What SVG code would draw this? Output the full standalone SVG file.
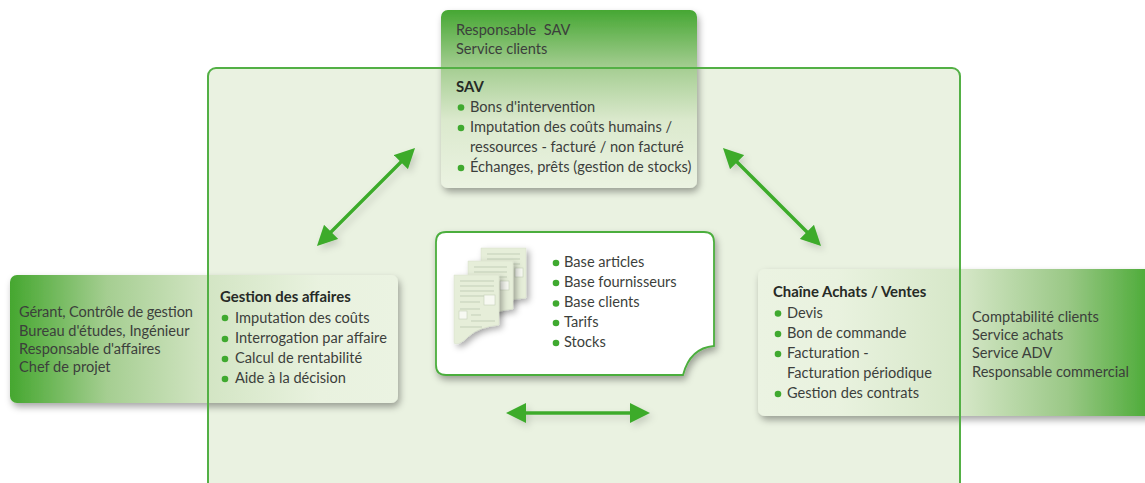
<svg xmlns="http://www.w3.org/2000/svg" width="1145" height="483" viewBox="0 0 1145 483">
<style>
text{font-family:"Lato","Open Sans","Liberation Sans",sans-serif;font-size:14.6px;fill:#3c3f3c;white-space:pre}
.b{font-weight:700;font-size:14.9px;fill:#262a26}
.dot{fill:#3fa92f}
.arrow{stroke:#3cab2c;stroke-width:3.4;fill:none;marker-start:url(#head);marker-end:url(#head)}
.line{stroke:#c3cfb8;stroke-width:1;fill:none}
.sheet{fill:#e6eed9;stroke:#d5dec8;stroke-width:.5;filter:url(#ss)}
.win{fill:#f7f9f2;stroke:#c6d0ba;stroke-width:.6}
</style>
<defs>
<linearGradient id="gt" x1="0" y1="0" x2="0" y2="1"><stop offset="0" stop-color="#46a733"/><stop offset=".33" stop-color="#a6ce93"/><stop offset=".62" stop-color="#dbe9cd"/><stop offset="1" stop-color="#ebf3e2"/></linearGradient>
<linearGradient id="gl" x1="0" y1="0" x2="1" y2="0"><stop offset="0" stop-color="#45a72f"/><stop offset=".25" stop-color="#a5ce91"/><stop offset=".51" stop-color="#d3e5c4"/><stop offset=".8" stop-color="#e9f2df"/><stop offset="1" stop-color="#ebf3e2"/></linearGradient>
<linearGradient id="gr" x1="1" y1="0" x2="0" y2="0"><stop offset="0" stop-color="#47a932"/><stop offset=".22" stop-color="#9ac886"/><stop offset=".49" stop-color="#d6e7c8"/><stop offset=".8" stop-color="#e9f2df"/><stop offset="1" stop-color="#ebf3e2"/></linearGradient>
<filter id="sh" x="-10%" y="-10%" width="120%" height="125%"><feDropShadow dx="2" dy="4" stdDeviation="3.500" flood-color="#000" flood-opacity=".34"/></filter>
<filter id="ss" x="-30%" y="-30%" width="170%" height="170%"><feDropShadow dx="3" dy="3" stdDeviation="3" flood-color="#000" flood-opacity=".32"/></filter>
<filter id="as" filterUnits="userSpaceOnUse" x="280" y="120" width="580" height="320"><feDropShadow dx="3" dy="4" stdDeviation="3.500" flood-color="#000" flood-opacity=".15"/></filter>
<marker id="head" viewBox="0 0 20 20" refX="3" refY="10" markerWidth="20" markerHeight="20" markerUnits="userSpaceOnUse" orient="auto-start-reverse"><path d="M0 0L20 10L0 20Z" fill="#3cab2c"/></marker>
</defs>

<rect id="frame-fill" x="208" y="68" width="752" height="430" rx="8" fill="#eaf2e1"/>

<g id="node-sav">
<rect x="441" y="10" width="256" height="178" rx="7" fill="url(#gt)" filter="url(#sh)"/>
<text x="456" y="35">Responsable  SAV</text>
<text x="456" y="54">Service clients</text>
<text class="b" x="456" y="92">SAV</text>
<circle class="dot" cx="461" cy="107.500" r="3.300"/><text x="470" y="112">Bons d'intervention</text>
<circle class="dot" cx="461" cy="128" r="3.300"/><text x="470" y="132">Imputation des coûts humains /</text>
<text x="470" y="152">ressources - facturé / non facturé</text>
<circle class="dot" cx="461" cy="168" r="3.300"/><text x="470" y="172">Échanges, prêts (gestion de stocks)</text>
</g>

<g id="node-affaires">
<rect x="10" y="275" width="388" height="128" rx="7" fill="url(#gl)" filter="url(#sh)"/>
<text x="19" y="317" textLength="174">Gérant, Contrôle de gestion</text>
<text x="19" y="336">Bureau d'études, Ingénieur</text>
<text x="19" y="354">Responsable d'affaires</text>
<text x="19" y="372">Chef de projet</text>
<text class="b" x="220" y="302">Gestion des affaires</text>
<circle class="dot" cx="225" cy="318" r="3.300"/><text x="235" y="323">Imputation des coûts</text>
<circle class="dot" cx="225" cy="339" r="3.300"/><text x="235" y="343">Interrogation par affaire</text>
<circle class="dot" cx="225" cy="359" r="3.300"/><text x="235" y="363">Calcul de rentabilité</text>
<circle class="dot" cx="225" cy="379" r="3.300"/><text x="235" y="383">Aide à la décision</text>
</g>

<g id="node-achats">
<rect x="758" y="269" width="397" height="147" rx="7" fill="url(#gr)" filter="url(#sh)"/>
<text class="b" x="773" y="297">Chaîne Achats / Ventes</text>
<circle class="dot" cx="778" cy="313.500" r="3.300"/><text x="787" y="318">Devis</text>
<circle class="dot" cx="778" cy="334" r="3.300"/><text x="787" y="338">Bon de commande</text>
<circle class="dot" cx="778" cy="354" r="3.300"/><text x="787" y="358">Facturation -</text>
<text x="787" y="378">Facturation périodique</text>
<circle class="dot" cx="778" cy="394" r="3.300"/><text x="787" y="398">Gestion des contrats</text>
<text x="972" y="322">Comptabilité clients</text>
<text x="972" y="340">Service achats</text>
<text x="972" y="358">Service ADV</text>
<text x="972" y="377">Responsable commercial</text>
</g>

<rect id="frame-border" x="208" y="68" width="752" height="430" rx="8" fill="none" stroke="#53b045" stroke-width="2"/>

<g id="node-base">
<path d="M446 232H704Q714 232 714 242V346Q690 348 683 375H446Q436 375 436 365V242Q436 232 446 232Z" fill="#fff" stroke="#4cae3e" stroke-width="1.800" filter="url(#sh)"/>
<path class="sheet" d="M481 248H526V298Q505 299 495 308Q488 313 481 313Z"/>
<path class="line" d="M487 254H520M487 259H520M487 264H520"/><rect class="win" x="515" y="268" width="8" height="9"/>
<path class="sheet" d="M468 261H513V309Q492 311 482 320Q475 326 468 327Z"/>
<path class="line" d="M474 267H507M474 272H507M474 277H507M474 286H497"/><rect class="win" x="500" y="281" width="9" height="9"/>
<path class="sheet" d="M454 275H499V325Q479 327 469 336Q461 344 456 344Q454 344 454 342Z"/>
<path class="line" d="M460 281H494M460 286H494M460 291H494M460 296H494M460 302H480M460 309H480M471 315H481M471 321H495M460 327H482"/>
<rect class="win" x="484" y="295" width="11" height="10"/><rect class="win" x="459" y="311" width="8" height="8"/>
<circle class="dot" cx="556" cy="263" r="3.300"/><text x="564" y="267">Base articles</text>
<circle class="dot" cx="556" cy="283" r="3.300"/><text x="564" y="287">Base fournisseurs</text>
<circle class="dot" cx="556" cy="303.500" r="3.300"/><text x="564" y="307">Base clients</text>
<circle class="dot" cx="556" cy="323" r="3.300"/><text x="564" y="327">Tarifs</text>
<circle class="dot" cx="556" cy="343" r="3.300"/><text x="564" y="347">Stocks</text>
</g>

<g id="connectors" filter="url(#as)">
<path class="arrow" d="M329 234L403 160"/>
<path class="arrow" d="M735 160L809 234"/>
<path class="arrow" d="M523 413H633"/>
</g>
</svg>
